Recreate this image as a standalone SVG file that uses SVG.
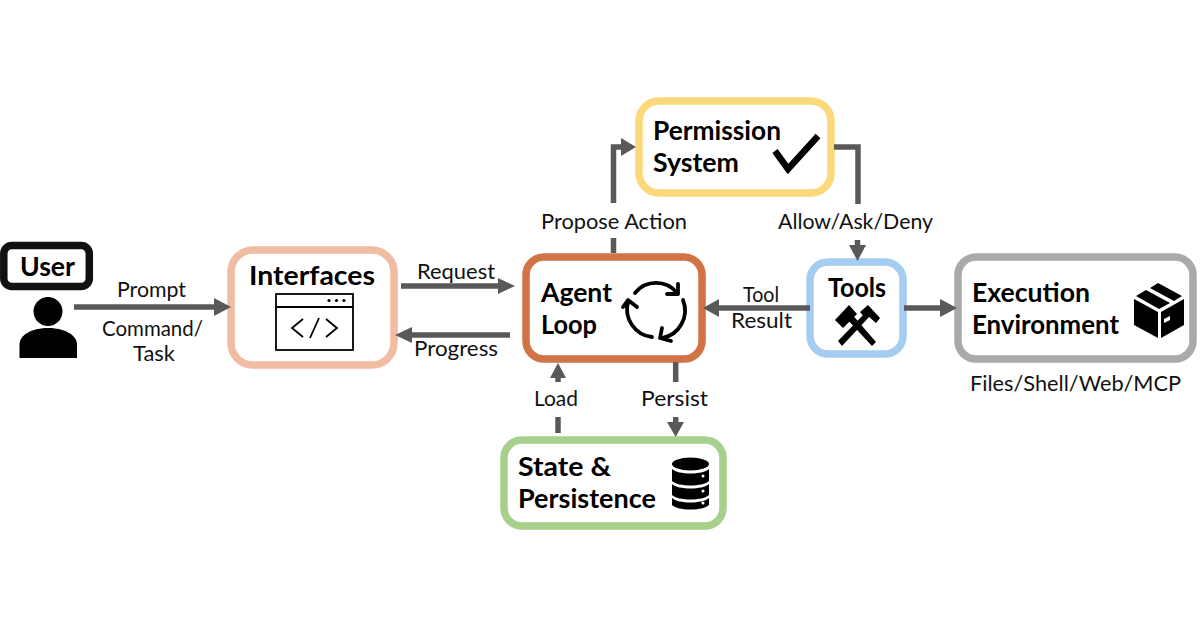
<svg xmlns="http://www.w3.org/2000/svg" width="1200" height="630" viewBox="0 0 1200 630">
<style>
.box{fill:#fff;stroke-width:7.5}
.t{font-family:"Lato","Noto Sans",sans-serif;font-weight:700;font-size:26px;fill:#000}
.l{font-family:"Lato","Noto Sans",sans-serif;font-weight:400;font-size:21px;fill:#111}
.c{fill:none;stroke:#595959;stroke-width:5.5}
.h{fill:#595959}
.i{fill:none;stroke:#000;stroke-width:1.8}
.a{fill:none;stroke:#000;stroke-width:3.8;stroke-linecap:round;stroke-linejoin:round}
</style>
<rect width="1200" height="630" fill="#fff"/>
<g id="user">
<rect x="3.800" y="245.500" width="85.500" height="41" rx="8" fill="#fff" stroke="#111" stroke-width="7.500"/>
<text class="t" x="20" y="276" textLength="55" lengthAdjust="spacingAndGlyphs">User</text>
<circle cx="48" cy="311.500" r="14.500" fill="#000"/>
<path d="M19.500 358V345C19.500 334 33 328 48 328S77 334 77 345V358Z" fill="#000"/>
</g>
<g id="interfaces">
<rect class="box" x="231" y="250" width="163" height="115" rx="22" stroke="#f0bca2"/>
<text class="t" x="249" y="285" textLength="126" lengthAdjust="spacingAndGlyphs">Interfaces</text>
<rect class="i" x="276" y="294" width="77" height="56"/>
<path class="i" d="M276 307H353"/>
<circle cx="329" cy="300.500" r="1.600"/><circle cx="336.500" cy="300.500" r="1.600"/><circle cx="344" cy="300.500" r="1.600"/>
<path class="i" d="M303 319L292 328L303 337M326 319L337 328L326 337M319 318L310 338"/>
</g>
<g id="agent-loop">
<rect class="box" x="526" y="257" width="176" height="102" rx="18" stroke="#d17345"/>
<text class="t" x="541" y="302" textLength="71" lengthAdjust="spacingAndGlyphs">Agent</text>
<text class="t" x="541" y="334" textLength="56" lengthAdjust="spacingAndGlyphs">Loop</text>
<path class="a" d="M635 293A27 27 0 0 1 677 293M678 284V294H667"/>
<path class="a" d="M683 300A28 28 0 0 1 662 338M662 328L660 338L671 341"/>
<path class="a" d="M652 337A28 28 0 0 1 628 302M623 307L628 300L637 307"/>
</g>
<g id="permission-system">
<rect class="box" x="639" y="101" width="192" height="92" rx="20" stroke="#fbd97a"/>
<text class="t" x="653" y="140" textLength="128" lengthAdjust="spacingAndGlyphs">Permission</text>
<text class="t" x="653" y="172" textLength="86" lengthAdjust="spacingAndGlyphs">System</text>
<path d="M775 151L788 169L818 136" fill="none" stroke="#000" stroke-width="6.500"/>
</g>
<g id="tools">
<rect class="box" x="810" y="262" width="93" height="92" rx="18" stroke="#a5cdf1"/>
<text class="t" x="828" y="297" textLength="58" lengthAdjust="spacingAndGlyphs">Tools</text>
<path d="M838 341L866 312L870 316L842 346ZM876 342L872 346L845 317L850 312Z" fill="#000"/>
<path d="M835 320L849 305L857 314L843 328ZM860 312L868 305L880 318L876 323L868 316L865 318Z" fill="#000"/>
</g>
<g id="execution-environment">
<rect class="box" x="958" y="257" width="235" height="102" rx="18" stroke="#a9a9a9"/>
<text class="t" x="972" y="302" textLength="118" lengthAdjust="spacingAndGlyphs">Execution</text>
<text class="t" x="972" y="334" textLength="147" lengthAdjust="spacingAndGlyphs">Environment</text>
<path d="M1134 299L1158 312V338L1134 325Z" fill="#000"/>
<path d="M1184 299L1161 312V338L1184 325Z" fill="#000"/>
<path d="M1136 296L1146 290L1170 303L1159 309ZM1150 288L1158 283L1182 296L1174 301Z" fill="#000"/>
<path d="M1164 319L1170 316V320L1164 323Z" fill="#fff"/>
</g>
<g id="state-persistence">
<rect class="box" x="504" y="440" width="219" height="86" rx="18" stroke="#a8d08d"/>
<text class="t" x="518" y="476" textLength="93" lengthAdjust="spacingAndGlyphs">State &amp;</text>
<text class="t" x="518" y="508" textLength="138" lengthAdjust="spacingAndGlyphs">Persistence</text>
<ellipse cx="690.500" cy="464" rx="18.500" ry="6.500" fill="#000"/>
<path d="M672 469C678 475 703 475 709 469V481C703 487 678 487 672 481Z" fill="#000"/>
<path d="M672 484C678 490 703 490 709 484V495C703 501 678 501 672 495Z" fill="#000"/>
<path d="M672 498C678 504 703 504 709 498V505C703 511 678 511 672 505Z" fill="#000"/>
<circle cx="703" cy="476" r="1.500" fill="#fff"/><circle cx="703" cy="491" r="1.500" fill="#fff"/><circle cx="703" cy="503" r="1.500" fill="#fff"/>
</g>
<g id="connectors">
<path class="c" d="M74 307H216"/><path class="h" d="M214 298L231 307L214 316Z"/>
<path class="c" d="M401 286H500"/><path class="h" d="M498 278L515 286L498 294Z"/>
<path class="c" d="M510 335H410"/><path class="h" d="M412 327L395 335L412 343Z"/>
<path class="c" d="M613.500 253V238M613.500 203V147H624"/><path class="h" d="M621 138L636 147L621 156Z"/>
<path class="c" d="M834 147H858V204M857.500 240V248"/><path class="h" d="M849 245L857.500 261L866 245Z"/>
<path class="c" d="M810 308H717"/><path class="h" d="M719 299L703 308L719 317Z"/>
<path class="c" d="M904 308H942"/><path class="h" d="M940 299L957 308L940 317Z"/>
<path class="c" d="M558 382V376M558 417V433"/><path class="h" d="M550 378L558 363L566 378Z"/>
<path class="c" d="M675.700 362V382M675.700 417V424"/><path class="h" d="M667 422L675.700 437L684 422Z"/>
</g>
<g id="labels">
<text class="l" x="117" y="297" textLength="69" lengthAdjust="spacingAndGlyphs">Prompt</text>
<text class="l" x="102" y="336" textLength="101" lengthAdjust="spacingAndGlyphs">Command/</text>
<text class="l" x="133" y="361" textLength="42" lengthAdjust="spacingAndGlyphs">Task</text>
<text class="l" x="417" y="279" textLength="78" lengthAdjust="spacingAndGlyphs">Request</text>
<text class="l" x="414" y="356" textLength="84" lengthAdjust="spacingAndGlyphs">Progress</text>
<text class="l" x="541" y="229" textLength="146" lengthAdjust="spacingAndGlyphs">Propose Action</text>
<text class="l" x="778" y="229" textLength="155" lengthAdjust="spacingAndGlyphs">Allow/Ask/Deny</text>
<text class="l" x="743" y="302" textLength="36" lengthAdjust="spacingAndGlyphs">Tool</text>
<text class="l" x="731" y="328" textLength="61" lengthAdjust="spacingAndGlyphs">Result</text>
<text class="l" x="534" y="406" textLength="44" lengthAdjust="spacingAndGlyphs">Load</text>
<text class="l" x="641" y="406" textLength="67" lengthAdjust="spacingAndGlyphs">Persist</text>
<text class="l" x="970" y="391" textLength="211" lengthAdjust="spacingAndGlyphs">Files/Shell/Web/MCP</text>
</g>
</svg>
